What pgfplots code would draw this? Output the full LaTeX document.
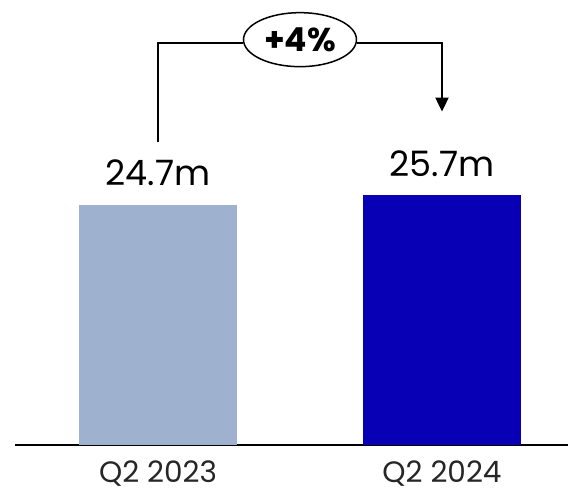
\documentclass[border=0pt]{standalone}
\usepackage{pgfplots}
\pgfplotsset{compat=1.18}
\usepackage{fontspec}
\setmainfont{Poppins}
\usetikzlibrary{arrows.meta,shapes.geometric}
\definecolor{barA}{HTML}{9EB1CF}
\definecolor{barB}{HTML}{0700B5}
\begin{document}
\begin{tikzpicture}
\useasboundingbox (-15pt,-44pt) rectangle (553pt,445pt);
\begin{axis}[
  scale only axis,
  width=553pt, height=445pt,
  xmin=-0.5035, xmax=1.4437,
  ymin=0, ymax=45.78,
  axis x line*=bottom,
  axis y line=none,
  x axis line style={line width=1.6pt, -},
  xtick={0,1},
  xticklabels={Q2 2023, Q2 2024},
  major tick length=0pt,
  xticklabel style={anchor=base, inner sep=0pt, yshift=-38pt, font=\fontsize{29.5}{32}\selectfont, text=black!85},
  ybar, bar width=158pt,
  point meta=explicit symbolic,
  nodes near coords,
  nodes near coords style={anchor=base, yshift=19pt, font=\fontsize{35}{40}\selectfont, text=black},
  clip=false,
]
\addplot[fill=barA, draw=none, bar shift=0pt] coordinates {(0,24.7) [24.7m]};
\addplot[fill=barB, draw=none, bar shift=0pt] coordinates {(1,25.7) [25.7m]};
\draw[line width=2pt] (axis cs:0,31.2) -- (axis cs:0,41.4) -- (axis cs:0.3,41.4);
\draw[line width=2pt, -{Triangle[length=14pt,width=13pt]}] (axis cs:0.7,41.4) -- (axis cs:1,41.4) -- (axis cs:1,34.3);
\node[draw, line width=1.5pt, ellipse, fill=white, minimum width=113pt, minimum height=54pt, inner sep=0pt, font=\bfseries\fontsize{33}{36}\selectfont] at (axis cs:0.5,41.7) {+4\%};
\end{axis}
\end{tikzpicture}
\end{document}
